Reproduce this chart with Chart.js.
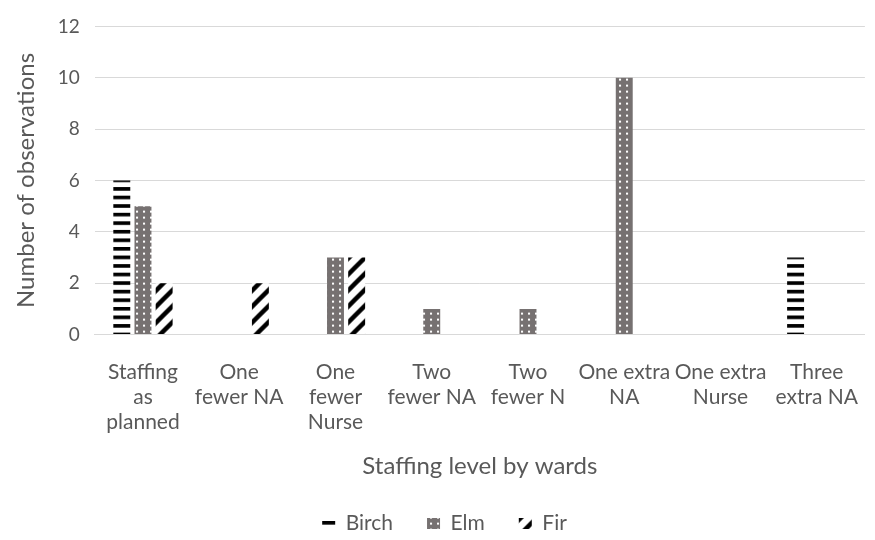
<!DOCTYPE html>
<html>
<head>
<meta charset="utf-8">
<script src="https://cdn.jsdelivr.net/npm/chart.js@4.4.0/dist/chart.umd.js"></script>
<style>
  html, body { margin: 0; padding: 0; background: #fff; }
  #wrap { width: 875px; height: 540px; }
</style>
</head>
<body>
<div id="wrap"><canvas id="chart" width="875" height="540"></canvas></div>
<script>
// staffing levels per ward
const categories = [
    ['Staffing', 'as', 'planned'],
    ['One', 'fewer NA'],
    ['One', 'fewer', 'Nurse'],
    ['Two', 'fewer NA'],
    ['Two', 'fewer N'],
    ['One extra', 'NA'],
    ['One extra', 'Nurse'],
    ['Three', 'extra NA']
];
const birch = [6, 0, 0, 0, 0, 0, 0, 3];
const elm = [5, 0, 3, 1, 1, 10, 0, 0];
const fir = [2, 2, 3, 0, 0, 0, 0, 0];
const yTicks = [0, 2, 4, 6, 8, 10, 12];

const FONT = 'Lato, "Open Sans", sans-serif';
const TEXT = '#595959';
const GRID = '#d9d9d9';

// small repeating tiles used as bar fills
function makePattern(w, h, draw) {
    const c = document.createElement('canvas');
    c.width = w;
    c.height = h;
    const ctx = c.getContext('2d');
    draw(ctx, w, h);
    const p = ctx.createPattern(c, 'repeat');
    p.tileHeight = h;
    return p;
}

// horizontal black stripes, period 9 in tile space (rescaled later)
const birchFill = makePattern(18, 18, (ctx, w, h) => {
    ctx.fillStyle = '#fff';
    ctx.fillRect(0, 0, w, h);
    ctx.fillStyle = '#000';
    ctx.fillRect(0, 0, w, 3.8);
    ctx.fillRect(0, 9, w, 3.8);
});

// grey with small white dots
const elmFill = makePattern(7, 6, (ctx, w, h) => {
    ctx.fillStyle = '#767171';
    ctx.fillRect(0, 0, w, h);
    ctx.fillStyle = '#fff';
    ctx.fillRect(3, 2, 2, 2);
});

// wide diagonal stripes
const firFill = makePattern(16, 16, (ctx, w, h) => {
    ctx.fillStyle = '#fff';
    ctx.fillRect(0, 0, w, h);
    ctx.strokeStyle = '#000';
    ctx.lineWidth = 4.5;
    ctx.beginPath();
    ctx.moveTo(0, h); ctx.lineTo(w, 0);
    ctx.moveTo(-w / 2, h / 2); ctx.lineTo(w / 2, -h / 2);
    ctx.moveTo(w / 2, h * 1.5); ctx.lineTo(w * 1.5, h / 2);
    ctx.stroke();
});

// tie the fill tiles to the value axis: birch gets three stripes per unit
const alignPatterns = {
    id: 'alignPatterns',
    afterLayout(chart) {
        const y = chart.scales.y;
        const base = y.getPixelForValue(0);
        const period = (base - y.getPixelForValue(1)) / 3;
        birchFill.setTransform(new DOMMatrix().translate(0, base - 2).scale(1, period / 9));
        [elmFill, firFill].forEach(p => {
            p.setTransform(new DOMMatrix().translate(0, base % p.tileHeight));
        });
    }
};

const barOpts = { categoryPercentage: 0.66, barPercentage: 0.8, borderWidth: 0 };

new Chart(document.getElementById('chart'), {
    type: 'bar',
    data: {
        labels: categories,
        datasets: [
            { label: 'Birch', data: birch, backgroundColor: birchFill, ...barOpts },
            { label: 'Elm', data: elm, backgroundColor: elmFill, ...barOpts },
            { label: 'Fir', data: fir, backgroundColor: firFill, ...barOpts }
        ]
    },
    options: {
        responsive: false,
        animation: false,
        layout: { padding: { top: 0, right: -6, left: 8, bottom: -4 } },
        plugins: {
            legend: {
                position: 'bottom',
                labels: {
                    color: TEXT,
                    font: { family: FONT, size: 21 },
                    boxWidth: 13,
                    boxHeight: 11,
                    padding: 34
                }
            },
            tooltip: { enabled: false }
        },
        scales: {
            x: {
                grid: { display: false },
                border: { color: GRID },
                ticks: { color: TEXT, font: { family: FONT, size: 21, lineHeight: 1.2 }, maxRotation: 0, autoSkip: false, padding: 17 },
                title: { display: true, text: 'Staffing level by wards', color: TEXT, font: { family: FONT, size: 24 }, padding: { top: 0, bottom: -2 } }
            },
            y: {
                min: 0,
                max: 12,
                afterBuildTicks: axis => { axis.ticks = yTicks.map(v => ({ value: v })); },
                grid: { color: GRID, drawTicks: false },
                border: { display: false },
                ticks: { color: TEXT, font: { family: FONT, size: 19 }, padding: 15 },
                title: { display: true, text: 'Number of observations', color: TEXT, font: { family: FONT, size: 24 }, padding: { bottom: 2 } }
            }
        }
    },
    plugins: [alignPatterns]
});
</script>
</body>
</html>
